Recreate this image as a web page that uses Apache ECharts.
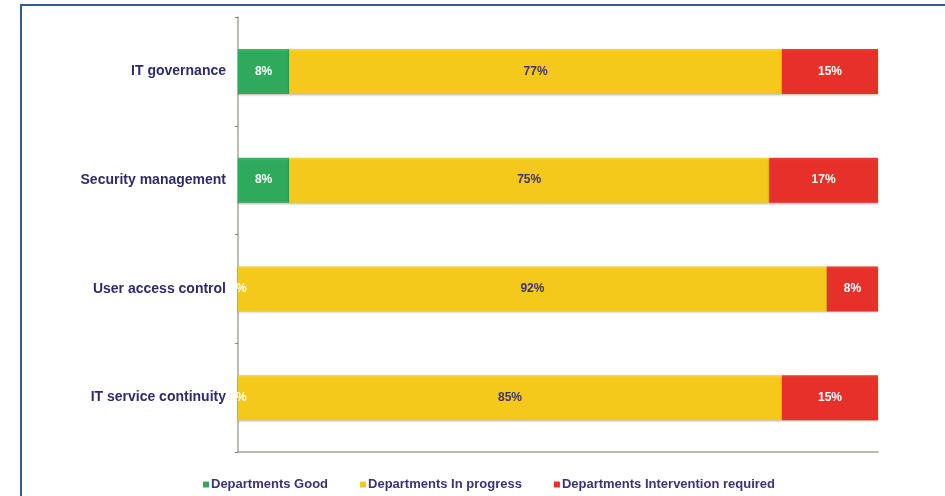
<!DOCTYPE html>
<html>
<head>
<meta charset="utf-8">
<style>
  html, body { margin: 0; padding: 0; background: #ffffff; }
  #chart { width: 945px; height: 496px; }
</style>
<script src="https://cdn.jsdelivr.net/npm/echarts@6/dist/echarts.min.js"></script>
</head>
<body>
<div id="chart"></div>
<script>
// Share of departments per IT control area (percent)
const categories = ['IT governance', 'Security management', 'User access control', 'IT service continuity'];
const seriesNames = ['Departments Good', 'Departments In progress', 'Departments Intervention required'];
const good = [8, 8, 0, 0];
const inProgress = [77, 75, 92, 85];
const intervention = [15, 17, 8, 15];

const colors = ['#2faa5c', '#f5c81c', '#e8302a'];
const topColors = ['#3cb868', '#f8d634', '#ec3e33'];
const labelColors = ['#ffffff', '#3b3470', '#ffffff'];
const values = [good, inProgress, intervention];
const FONT = 'Liberation Sans, Arial, sans-serif';

const chart = echarts.init(document.getElementById('chart'), null, { renderer: 'canvas' });

const series = seriesNames.map((name, i) => ({
  name: name,
  type: 'bar',
  stack: 'total',
  barWidth: 45,
  data: values[i],
  itemStyle: {
    color: new echarts.graphic.LinearGradient(0, 0, 0, 1, [
      { offset: 0, color: topColors[i] },
      { offset: 0.08, color: colors[i] },
      { offset: 1, color: colors[i] }
    ]),
    shadowColor: 'rgba(0,0,0,0.3)',
    shadowBlur: 2,
    shadowOffsetY: 1
  },
  label: {
    show: true,
    position: 'inside',
    formatter: '{c}%',
    color: labelColors[i],
    fontFamily: FONT,
    fontWeight: 'bold',
    fontSize: 12
  }
}));

chart.setOption({
  animation: false,
  backgroundColor: '#ffffff',
  graphic: [{
    type: 'rect',
    shape: { x: 21, y: 5, width: 1000, height: 600 },
    style: { fill: 'none', stroke: '#2d5b9c', lineWidth: 2 },
    silent: true,
    z: 0
  }],
  grid: { left: 238, right: 67, top: 17, bottom: 44 },
  xAxis: {
    type: 'value',
    min: 0,
    max: 100,
    show: true,
    axisLine: { show: true, lineStyle: { color: '#a8a49c', width: 1.5 } },
    axisTick: { show: false },
    axisLabel: { show: false },
    splitLine: { show: false }
  },
  yAxis: {
    type: 'category',
    inverse: true,
    data: categories,
    axisLine: { show: true, lineStyle: { color: '#a8a49c', width: 1.5 } },
    axisTick: { show: true, length: 3, lineStyle: { color: '#8a8078' } },
    axisLabel: {
      margin: 12,
      color: '#2e2a6c',
      fontFamily: FONT,
      fontWeight: 'bold',
      fontSize: 14
    }
  },
  legend: {
    bottom: 0,
    left: 198,
    itemWidth: 6,
    itemHeight: 6,
    itemGap: 32,
    icon: 'rect',
    textStyle: {
      color: '#3a3378',
      fontFamily: FONT,
      fontWeight: 'bold',
      fontSize: 13,
      padding: [0, 0, 0, -3]
    },
    data: seriesNames
  },
  series: series
});
</script>
</body>
</html>
